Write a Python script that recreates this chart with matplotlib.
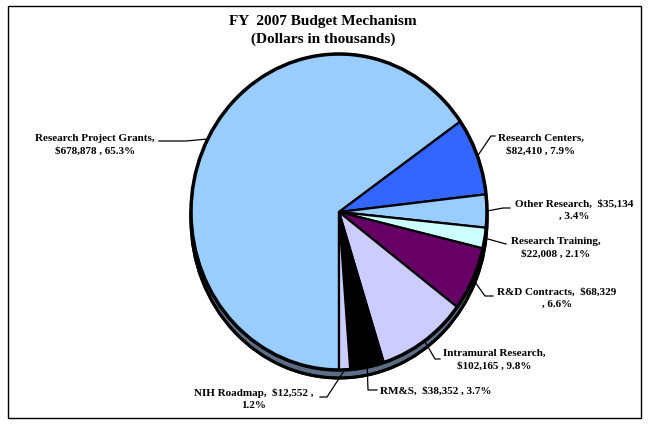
import matplotlib.pyplot as plt
import numpy as np
from matplotlib.patches import Circle, Rectangle

names = ['Research Project Grants', 'Research Centers', 'Other Research', 'Research Training',
         'R&D Contracts', 'Intramural Research', 'RM&S', 'NIH Roadmap']
amounts = [678878, 82410, 35134, 22008, 68329, 102165, 38352, 12552]
shares = [65.3, 7.9, 3.4, 2.1, 6.6, 9.8, 3.7, 1.2]
colors = ['#99CCFF', '#3366FF', '#99CCFF', '#CCFFFF', '#660066', '#CCCCFF', '#000000', '#CCCCFF']
label_text = ['Research Project Grants,\n$678,878 , 65.3%',
              'Research Centers,\n$82,410 , 7.9%',
              'Other Research,  $35,134\n, 3.4%',
              'Research Training,\n$22,008 , 2.1%',
              'R&D Contracts,  $68,329\n, 6.6%',
              'Intramural Research,\n$102,165 , 9.8%',
              'RM&S,  $38,352 , 3.7%',
              'NIH Roadmap,  $12,552 ,\n1.2%']

W, H = 648, 427
fig = plt.figure(figsize=(6.48, 4.27), dpi=100)
fig.patch.set_facecolor('white')

# pie geometry in pixels (image coords, y down)
cx, cy, rx, ry, depth = 339, 213, 148, 158, 8
pad = 1.2
ax = fig.add_axes([(cx - pad * rx) / W, (H - cy - pad * ry) / H, 2 * pad * rx / W, 2 * pad * ry / H])

# side / depth of the 3d pie
ax.pie([1], colors=['#5C6D86'], center=(0, -depth / ry), radius=1,
       wedgeprops=dict(edgecolor='black', linewidth=2), frame=True)
ax.add_patch(Circle((0, -depth / ry), 1, fill=False, edgecolor='black', linewidth=2.2))
wedges, _ = ax.pie(amounts, colors=colors, startangle=-90, counterclock=False,
                   wedgeprops=dict(edgecolor='black', linewidth=1.6), frame=True)
ax.add_patch(Circle((0, 0), 1, fill=False, edgecolor='black', linewidth=2.5))
ax.set_xlim(-pad, pad)
ax.set_ylim(-pad, pad)
ax.set_aspect('auto')
ax.axis('off')

# overlay in pixel coordinates for text and leader lines
ov = fig.add_axes([0, 0, 1, 1])
ov.set_xlim(0, W)
ov.set_ylim(H, 0)
ov.axis('off')
ov.patch.set_alpha(0)
ov.add_patch(Rectangle((8, 7), 633, 412, fill=False, edgecolor='black', linewidth=1))

ov.text(323, 22, 'FY  2007 Budget Mechanism', ha='center', va='center',
        family='Liberation Serif', weight='bold', fontsize=11)
ov.text(323, 39, '(Dollars in thousands)', ha='center', va='center',
        family='Liberation Serif', weight='bold', fontsize=11)

# label positions (text center) and leader elbow points
label_pos = [(95, 145), (541, 145), (574, 210), (556, 248),
             (557, 298), (494, 360), (380, 391), (254, 399)]
elbows = [[(186, 142), (159, 142)],
          [(491, 137), (495, 137)],
          [(503, 209), (510, 209)],
          [(506, 245)],
          [(485, 297), (493, 297)],
          [(435, 360), (440, 360)],
          [(368, 391), (377, 391)],
          [(327, 398), (320, 398)]]

for i, w in enumerate(wedges):
    mid = np.deg2rad((w.theta1 + w.theta2) / 2)
    ax_x = cx + rx * np.cos(mid)
    ax_y = cy - ry * np.sin(mid)
    pts = [(ax_x, ax_y)] + elbows[i]
    ov.plot([p[0] for p in pts], [p[1] for p in pts], color='black', linewidth=0.9)
    x, y = label_pos[i]
    ha = 'left' if i == 6 else 'center'
    ov.text(x, y, label_text[i], ha=ha, va='center', multialignment='center',
            family='Liberation Serif', weight='bold', fontsize=8, linespacing=1.45)

fig.savefig('out.png', dpi=100)
